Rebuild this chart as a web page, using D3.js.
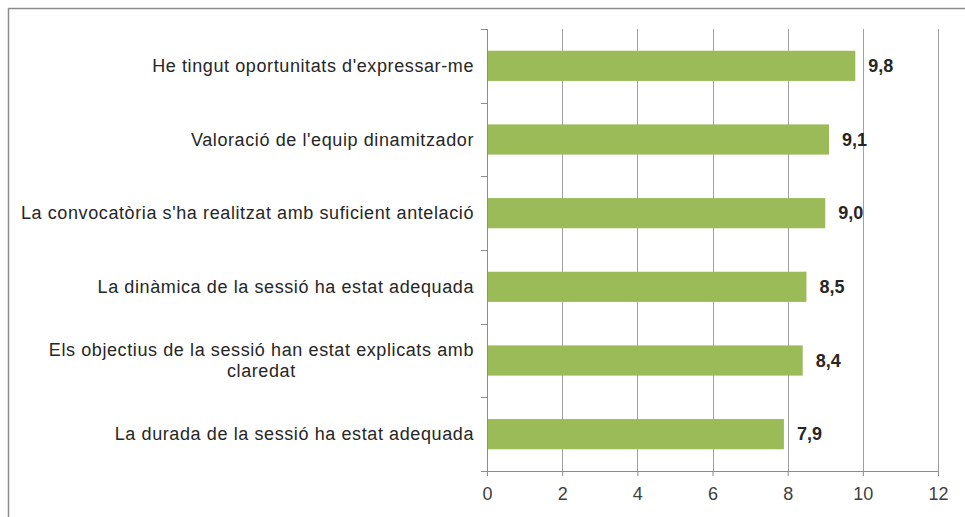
<!DOCTYPE html>
<html><head><meta charset="utf-8">
<script src="https://cdn.jsdelivr.net/npm/d3@7"></script>
<style>body{margin:0;background:#fff}svg{display:block}</style>
</head><body>
<svg id="c" width="965" height="517"></svg>
<script>
const categories = [
  ["He tingut oportunitats d'expressar-me"],
  ["Valoració de l'equip dinamitzador"],
  ["La convocatòria s'ha realitzat amb suficient antelació"],
  ["La dinàmica de la sessió ha estat adequada"],
  ["Els objectius de la sessió han estat explicats amb", "claredat"],
  ["La durada de la sessió ha estat adequada"]
];
const values = [9.8, 9.1, 9.0, 8.5, 8.4, 7.9];
const valueLabels = ["9,8", "9,1", "9,0", "8,5", "8,4", "7,9"];
const xTicks = [0, 2, 4, 6, 8, 10, 12];

const svg = d3.select("#c");
const font = "Liberation Sans, Arial, sans-serif";
svg.append("rect").attr("x", 8.5).attr("y", 8.5).attr("width", 1000).attr("height", 1000)
  .attr("fill", "#fff").attr("stroke", "#8c8c8c").attr("stroke-width", 1.5);

const pLeft = 487, pRight = 938, pTop = 29, pBottom = 471;
const x = d3.scaleLinear().domain([0, 12]).range([pLeft, pRight]);
const y = d3.scaleBand().domain(d3.range(categories.length)).range([pTop, pBottom]).paddingInner(0.59).paddingOuter(0.295);
const band = d3.scaleBand().domain(d3.range(categories.length)).range([pTop, pBottom]);

// gridlines
svg.append("g").selectAll("line").data(xTicks.slice(1)).join("line")
  .attr("x1", d => Math.round(x(d)) + 0.5).attr("x2", d => Math.round(x(d)) + 0.5)
  .attr("y1", pTop).attr("y2", pBottom).attr("stroke", "#a0a0a0").attr("stroke-width", 1);

// bars
svg.append("g").selectAll("rect").data(values).join("rect")
  .attr("x", x(0)).attr("y", (d, i) => y(i)).attr("width", d => x(d) - x(0))
  .attr("height", y.bandwidth()).attr("fill", "#9bbb59");

// value labels
svg.append("g").selectAll("text").data(values).join("text")
  .attr("x", d => x(d) + 13).attr("y", (d, i) => y(i) + y.bandwidth() / 2)
  .attr("dy", "0.35em").attr("font-family", font).attr("font-size", 18)
  .attr("font-weight", "bold").attr("fill", "#262626")
  .text((d, i) => valueLabels[i]);

// x axis
const xAxis = d3.axisBottom(x).tickValues(xTicks).tickSize(5).tickPadding(11).tickFormat(d => d);
const gx = svg.append("g").attr("transform", `translate(0,${pBottom})`).call(xAxis);
gx.select(".domain").attr("stroke", "#8c8c8c").attr("d", `M${pLeft - 6},0.5H${pRight}`);
gx.selectAll(".tick line").attr("stroke", "#8c8c8c");
gx.selectAll(".tick text").attr("font-family", font).attr("font-size", 18).attr("fill", "#404040");

// y axis line and ticks
const gy = svg.append("g");
gy.append("line").attr("x1", pLeft + 0.5).attr("x2", pLeft + 0.5).attr("y1", pTop).attr("y2", pBottom + 5).attr("stroke", "#8c8c8c");
gy.selectAll("line.t").data(d3.range(categories.length + 1)).join("line").attr("class", "t")
  .attr("x1", pLeft - 6).attr("x2", pLeft)
  .attr("y1", d => Math.round(pTop + d * band.step()) + 0.5).attr("y2", d => Math.round(pTop + d * band.step()) + 0.5)
  .attr("stroke", "#8c8c8c");

// category labels
const labelRight = 474;
categories.forEach((lines, i) => {
  const cy = y(i) + y.bandwidth() / 2;
  const t = svg.append("text").attr("font-family", font).attr("font-size", 18)
    .attr("letter-spacing", 0.6).attr("fill", "#262626");
  if (lines.length === 1) {
    t.attr("x", labelRight).attr("y", cy).attr("dy", "0.35em").attr("text-anchor", "end").text(lines[0]);
  } else {
    const lh = 21;
    const tmp = lines.map((l, k) => t.append("tspan").attr("x", 0).attr("y", cy - (lines.length - 1) * lh / 2 + k * lh).attr("dy", "0.35em").text(l));
    const w = d3.max(tmp, s => s.node().getComputedTextLength());
    t.attr("text-anchor", "middle");
    tmp.forEach(s => s.attr("x", labelRight - w / 2));
  }
});
</script>
</body></html>
